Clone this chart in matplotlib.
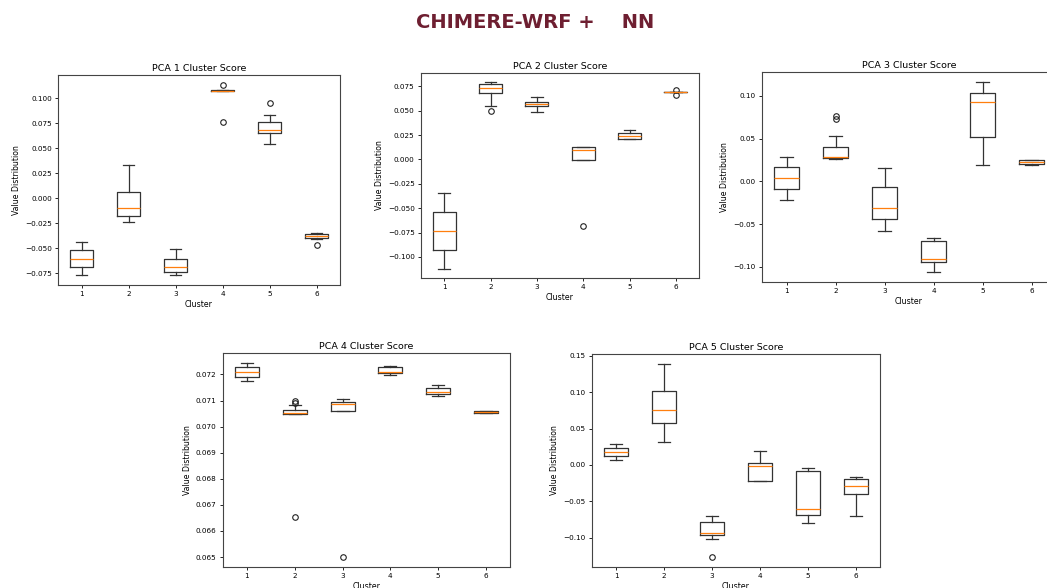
import matplotlib.pyplot as plt

# cluster labels shared by every panel
clusters = ["1", "2", "3", "4", "5", "6"]

# box summaries per cluster: [whisker low, Q1, median, Q3, whisker high]
pca1_stats = [
    [-0.0773, -0.0690, -0.0607, -0.0520, -0.0437],
    [-0.0237, -0.0177, -0.0103, 0.0057, 0.0333],
    [-0.0767, -0.0740, -0.0687, -0.0610, -0.0510],
    [0.1075, 0.1075, 0.1077, 0.1078, 0.1078],
    [0.0543, 0.0650, 0.0687, 0.0763, 0.0837],
    [-0.0405, -0.0403, -0.0383, -0.0357, -0.0350],
]
pca1_fliers = [[], [], [], [0.1137, 0.0767], [0.0953], [-0.0473]]

pca2_stats = [
    [-0.1120, -0.0925, -0.0731, -0.0540, -0.0346],
    [0.0553, 0.0679, 0.0736, 0.0777, 0.0791],
    [0.0484, 0.0546, 0.0566, 0.0593, 0.0641],
    [-0.0006, -0.0006, 0.0093, 0.0123, 0.0123],
    [0.0209, 0.0212, 0.0239, 0.0267, 0.0304],
    [0.0688, 0.0688, 0.0689, 0.0690, 0.0690],
]
pca2_fliers = [[], [0.0501], [], [-0.0687], [], [0.0716, 0.0665]]

pca3_stats = [
    [-0.0219, -0.0086, 0.0035, 0.0164, 0.0285],
    [0.0262, 0.0270, 0.0281, 0.0398, 0.0531],
    [-0.0582, -0.0441, -0.0313, -0.0063, 0.0160],
    [-0.1066, -0.0949, -0.0910, -0.0695, -0.0660],
    [0.0195, 0.0523, 0.0934, 0.1039, 0.1168],
    [0.0188, 0.0199, 0.0227, 0.0246, 0.0250],
]
pca3_fliers = [[], [0.0765, 0.0735], [], [], [], []]

pca4_stats = [
    [0.07174, 0.07192, 0.07210, 0.07230, 0.07245],
    [0.07050, 0.07050, 0.07054, 0.07064, 0.07081],
    [0.07059, 0.07059, 0.07087, 0.07096, 0.07104],
    [0.07199, 0.07205, 0.07210, 0.07228, 0.07233],
    [0.07119, 0.07126, 0.07131, 0.07150, 0.07161],
    [0.07053, 0.07053, 0.07056, 0.07058, 0.07058],
]
pca4_fliers = [[], [0.07097, 0.07092, 0.06652], [0.06499], [], [], []]

pca5_stats = [
    [0.0073, 0.0128, 0.0183, 0.0234, 0.0294],
    [0.0321, 0.0573, 0.0761, 0.1014, 0.1394],
    [-0.1018, -0.0959, -0.0931, -0.0789, -0.0706],
    [-0.0225, -0.0216, -0.0009, 0.0028, 0.0197],
    [-0.0798, -0.0684, -0.0606, -0.0078, -0.0037],
    [-0.0702, -0.0399, -0.0284, -0.0193, -0.0170],
]
pca5_fliers = [[], [], [-0.1271], [], [], []]

panels = [
    ("PCA 1 Cluster Score", pca1_stats, pca1_fliers, [58, 75, 282, 210]),
    ("PCA 2 Cluster Score", pca2_stats, pca2_fliers, [421, 73, 278, 205]),
    ("PCA 3 Cluster Score", pca3_stats, pca3_fliers, [762, 72, 294, 210]),
    ("PCA 4 Cluster Score", pca4_stats, pca4_fliers, [223, 353, 287, 214]),
    ("PCA 5 Cluster Score", pca5_stats, pca5_fliers, [592, 354, 288, 213]),
]

W, H = 1047, 588
fig = plt.figure(figsize=(W / 100, H / 100), dpi=100)

for title, stats, fliers, (px, py, pw, ph) in panels:
    ax = fig.add_axes([px / W, 1 - (py + ph) / H, pw / W, ph / H])
    boxes = []
    for lab, s, f in zip(clusters, stats, fliers):
        boxes.append(dict(label=lab, whislo=s[0], q1=s[1], med=s[2],
                          q3=s[3], whishi=s[4], fliers=f))
    ax.bxp(boxes, widths=0.5,
           boxprops=dict(color="#333333", linewidth=0.9),
           whiskerprops=dict(color="#333333", linewidth=0.9),
           capprops=dict(color="#333333", linewidth=0.9),
           medianprops=dict(color="#ff7f0e", linewidth=0.9),
           flierprops=dict(marker="o", markersize=4, markerfacecolor="none",
                           markeredgecolor="#222222", markeredgewidth=0.8))
    ax.set_title(title, fontsize=6.8, pad=3)
    ax.set_xlabel("Cluster", fontsize=5.6, labelpad=2)
    ax.set_ylabel("Value Distribution", fontsize=5.6, labelpad=3)
    ax.tick_params(labelsize=5.2, length=2.5, width=0.6, pad=2)
    for sp in ax.spines.values():
        sp.set_linewidth(0.8)
        sp.set_color("#444444")

fig.text(0.511, 0.962, "CHIMERE-WRF +    NN", ha="center", va="center",
         fontsize=14, fontweight="bold", color="#6e1f31", family="DejaVu Sans")

fig.savefig("out.png", dpi=100)
